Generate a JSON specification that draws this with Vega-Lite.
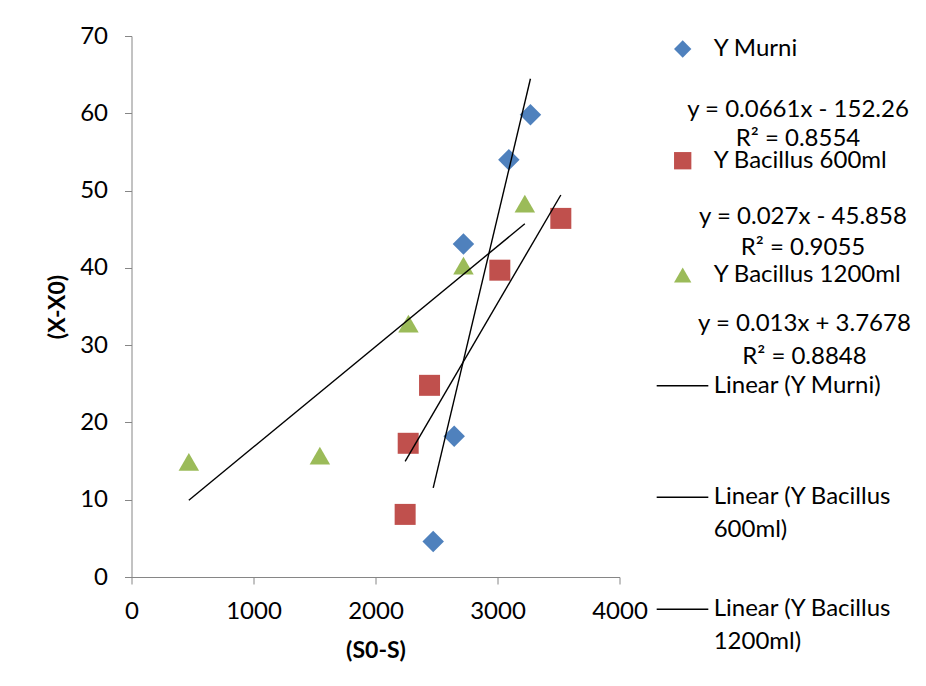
{
  "$schema": "https://vega.github.io/schema/vega-lite/v6.json",
  "width": 488,
  "height": 541,
  "autosize": {"type": "none"},
  "padding": {"left": 131.5, "top": 36, "right": 306.5, "bottom": 109},
  "background": "white",
  "config": {
    "font": "Lato",
    "view": {"stroke": null},
    "axis": {
      "grid": false,
      "domainColor": "#868686",
      "tickColor": "#868686",
      "tickSize": 7,
      "labelFlush": false,
      "labelFont": "Lato",
      "labelFontSize": 24,
      "labelColor": "#000000",
      "titleFont": "Lato",
      "titleFontSize": 23,
      "titleFontWeight": "bold",
      "titleColor": "#000000"
    }
  },
  "datasets": {
    "points": [
      {"series": "Y Murni", "x": 3270, "y": 59.8},
      {"series": "Y Murni", "x": 3093, "y": 54.0},
      {"series": "Y Murni", "x": 2721, "y": 43.1},
      {"series": "Y Murni", "x": 2645, "y": 18.2},
      {"series": "Y Murni", "x": 2473, "y": 4.6},
      {"series": "Y Bacillus 600ml", "x": 3519, "y": 46.4},
      {"series": "Y Bacillus 600ml", "x": 3019, "y": 39.7},
      {"series": "Y Bacillus 600ml", "x": 2443, "y": 24.8},
      {"series": "Y Bacillus 600ml", "x": 2268, "y": 17.3},
      {"series": "Y Bacillus 600ml", "x": 2243, "y": 8.1},
      {"series": "Y Bacillus 1200ml", "x": 470, "y": 14.9},
      {"series": "Y Bacillus 1200ml", "x": 1544, "y": 15.7},
      {"series": "Y Bacillus 1200ml", "x": 2270, "y": 32.8},
      {"series": "Y Bacillus 1200ml", "x": 2721, "y": 40.3},
      {"series": "Y Bacillus 1200ml", "x": 3224, "y": 48.3}
    ],
    "legendSymbols": [
      {"series": "Y Murni", "lx": 1.1295, "ly": 0},
      {"series": "Y Bacillus 600ml", "lx": 1.1295, "ly": 0.997},
      {"series": "Y Bacillus 1200ml", "lx": 1.1295, "ly": 2.017}
    ],
    "legendLines": [
      {"item": "Linear (Y Murni)", "lx": 1.0762, "lx2": 1.182, "ly": 3.005},
      {"item": "Linear (Y Bacillus 600ml)", "lx": 1.0762, "lx2": 1.182, "ly": 4.0},
      {"item": "Linear (Y Bacillus 1200ml)", "lx": 1.0762, "lx2": 1.182, "ly": 5.0}
    ],
    "legendText": [
      {"label": "Y Murni", "lx": 1.193, "ly": 0, "align": "left"},
      {"label": "y = 0.0661x - 152.26", "lx": 1.3658, "ly": 0.544, "align": "center"},
      {"label": "R² = 0.8554", "lx": 1.3658, "ly": 0.805, "align": "center"},
      {"label": "Y Bacillus 600ml", "lx": 1.193, "ly": 0.997, "align": "left"},
      {"label": "y = 0.027x - 45.858", "lx": 1.376, "ly": 1.497, "align": "center"},
      {"label": "R² = 0.9055", "lx": 1.376, "ly": 1.778, "align": "center"},
      {"label": "Y Bacillus 1200ml", "lx": 1.193, "ly": 2.017, "align": "left"},
      {"label": "y = 0.013x + 3.7678", "lx": 1.379, "ly": 2.454, "align": "center"},
      {"label": "R² = 0.8848", "lx": 1.379, "ly": 2.751, "align": "center"},
      {"label": "Linear (Y Murni)", "lx": 1.193, "ly": 3.005, "align": "left"},
      {"label": "Linear (Y Bacillus", "lx": 1.193, "ly": 4.0, "align": "left"},
      {"label": "600ml)", "lx": 1.193, "ly": 4.292, "align": "left"},
      {"label": "Linear (Y Bacillus", "lx": 1.193, "ly": 5.0, "align": "left"},
      {"label": "1200ml)", "lx": 1.193, "ly": 5.289, "align": "left"}
    ]
  },
  "layer": [
    {
      "layer": [
        {
          "data": {"name": "points"},
          "mark": {"type": "point", "filled": true, "opacity": 1, "strokeWidth": 0},
          "encoding": {
            "x": {
              "field": "x", "type": "quantitative",
              "scale": {"domain": [0, 4000], "nice": false, "zero": false},
              "axis": {"values": [0, 1000, 2000, 3000, 4000], "format": "d", "title": "(S0-S)", "labelPadding": 15, "titlePadding": 16}
            },
            "y": {
              "field": "y", "type": "quantitative",
              "scale": {"domain": [0, 70], "nice": false, "zero": false},
              "axis": {"values": [0, 10, 20, 30, 40, 50, 60, 70], "title": "(X-X0)", "labelPadding": 17, "titlePadding": 10}
            },
            "shape": {
              "field": "series", "type": "nominal",
              "scale": {"domain": ["Y Murni", "Y Bacillus 600ml", "Y Bacillus 1200ml"], "range": ["diamond", "square", "triangle-up"]},
              "legend": null
            },
            "color": {
              "field": "series", "type": "nominal",
              "scale": {"domain": ["Y Murni", "Y Bacillus 600ml", "Y Bacillus 1200ml"], "range": ["#4F81BD", "#C0504D", "#9BBB59"]},
              "legend": null
            },
            "size": {
              "field": "series", "type": "ordinal",
              "scale": {"domain": ["Y Murni", "Y Bacillus 600ml", "Y Bacillus 1200ml"], "range": [462, 420, 500]},
              "legend": null
            }
          }
        },
        {
          "data": {"name": "points"},
          "transform": [{"regression": "y", "on": "x", "groupby": ["series"]}],
          "mark": {"type": "line", "color": "#000000", "strokeWidth": 1.4},
          "encoding": {
            "x": {"field": "x", "type": "quantitative"},
            "y": {"field": "y", "type": "quantitative"},
            "detail": {"field": "series", "type": "nominal"}
          }
        }
      ]
    },
    {
      "layer": [
        {
          "data": {"name": "legendSymbols"},
          "mark": {"type": "point", "filled": true, "opacity": 1, "strokeWidth": 0, "size": 300},
          "encoding": {
            "x": {"field": "lx", "type": "quantitative", "scale": {"domain": [0, 1], "nice": false, "zero": false}, "axis": null},
            "y": {"field": "ly", "type": "quantitative", "scale": {"domain": [-0.116, 4.712], "nice": false, "zero": false, "reverse": true}, "axis": null},
            "shape": {"field": "series", "type": "nominal"},
            "color": {"field": "series", "type": "nominal"}
          }
        },
        {
          "data": {"name": "legendLines"},
          "mark": {"type": "rule", "color": "#000000", "strokeWidth": 1.4},
          "encoding": {
            "x": {"field": "lx", "type": "quantitative"},
            "x2": {"field": "lx2"},
            "y": {"field": "ly", "type": "quantitative"}
          }
        },
        {
          "data": {"name": "legendText"},
          "transform": [{"filter": "datum.align === 'left'"}],
          "mark": {"type": "text", "align": "left", "baseline": "middle", "fontSize": 24, "font": "Lato", "color": "#000000"},
          "encoding": {
            "x": {"field": "lx", "type": "quantitative"},
            "y": {"field": "ly", "type": "quantitative"},
            "text": {"field": "label", "type": "nominal"}
          }
        },
        {
          "data": {"name": "legendText"},
          "transform": [{"filter": "datum.align === 'center'"}],
          "mark": {"type": "text", "align": "center", "baseline": "middle", "fontSize": 24, "font": "Lato", "color": "#000000"},
          "encoding": {
            "x": {"field": "lx", "type": "quantitative"},
            "y": {"field": "ly", "type": "quantitative"},
            "text": {"field": "label", "type": "nominal"}
          }
        }
      ]
    }
  ],
  "resolve": {"scale": {"x": "independent", "y": "independent"}}
}
